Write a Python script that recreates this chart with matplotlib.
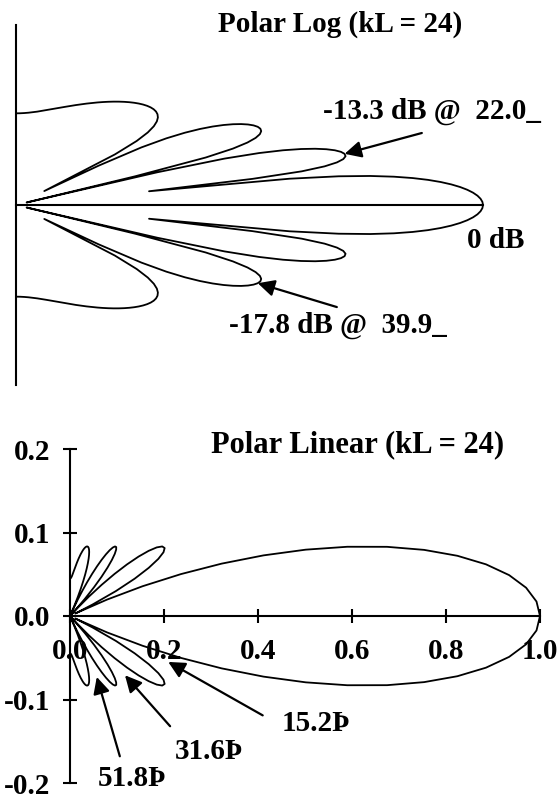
import numpy as np
import matplotlib
matplotlib.use('Agg')
import matplotlib.pyplot as plt

# line source pattern, kL = 24, sampled every degree (0..90, symmetric),
# plus the 31.5 deg sample that dips into the second null
angle_deg = list(range(0, 32)) + [31.5] + list(range(32, 91))
amplitude = [1.0, 0.9927, 0.9710, 0.9356, 0.8872, 0.8274, 0.7576, 0.6798, 0.5958, 0.5079,
             0.4181, 0.3287, 0.2415, 0.1585, 0.08139, 0.01151, 0.04997, 0.1022, 0.1448, 0.1773,
             0.2000, 0.2131, 0.2172, 0.2132, 0.2020, 0.1846, 0.1623, 0.1361, 0.1074, 0.07715,
             0.04657, 0.01659, 0.002105,
             0.01192, 0.03822, 0.06174, 0.08200, 0.09872, 0.1117, 0.1209, 0.1264,
             0.1284, 0.1270, 0.1226, 0.1156, 0.1063, 0.09514, 0.08251, 0.06882, 0.05445, 0.03975,
             0.02504, 0.01060, 0.003315, 0.01651, 0.02881, 0.04009, 0.05027, 0.05928, 0.06711, 0.07375,
             0.07924, 0.08361, 0.08692, 0.08925, 0.09068, 0.09129, 0.09117, 0.09042, 0.08911, 0.08735,
             0.08521, 0.08277, 0.08011, 0.07729, 0.07438, 0.07142, 0.06848, 0.06559, 0.06279, 0.06012,
             0.05760, 0.05526, 0.05312, 0.05120, 0.04951, 0.04806, 0.04687, 0.04593, 0.04526, 0.04485,
             0.04471]

db_floor = -55.0
lin_xticks = [0.0, 0.2, 0.4, 0.6, 0.8, 1.0]
lin_yticks = [-0.2, -0.1, 0.0, 0.1, 0.2]

# labels for the two plots
log_title = 'Polar Log (kL = 24)'
lin_title = 'Polar Linear (kL = 24)'
sidelobe1 = '-13.3 dB @  22.0_'
sidelobe2 = '-17.8 dB @  39.9_'
null_labels = ['15.2Þ', '31.6Þ', '51.8Þ']

plt.rcParams['font.family'] = ['Liberation Serif', 'DejaVu Serif']
plt.rcParams['font.weight'] = 'bold'
plt.rcParams['axes.unicode_minus'] = False
FS = 21

# mirror to -90..90
ang = np.array(angle_deg, dtype=float)
amp = np.array(amplitude)
theta = np.deg2rad(np.concatenate([-ang[::-1], ang[1:]]))
mag = np.concatenate([amp[::-1], amp[1:]])

db = 20 * np.log10(mag)
r_log = np.clip((db - db_floor) / (-db_floor), 0, None)

fig = plt.figure(figsize=(5.59, 7.96), dpi=100)
W, H = 559.0, 796.0

def rect(x0, y0, x1, y1):
    return [x0 / W, 1 - y1 / H, (x1 - x0) / W, (y1 - y0) / H]

# ---- top: polar log ----
ax1 = fig.add_axes(rect(16, 25, 530, 385))
ax1.plot(r_log * np.cos(theta), r_log * np.sin(theta), color='black', lw=1.3)
ax1.set_xlim(0, 514 / 467)
ax1.set_ylim(-1, 1)
for s in ['top', 'right']:
    ax1.spines[s].set_visible(False)
ax1.spines['bottom'].set_position(('data', 0))
ax1.spines['bottom'].set_bounds(0, 1)
ax1.spines['left'].set_bounds(-1, 1)
for s in ['bottom', 'left']:
    ax1.spines[s].set_linewidth(1.5)
ax1.set_xticks([])
ax1.set_yticks([])
ax1.patch.set_visible(False)

deg_full = np.rad2deg(theta)
i1 = int(np.argmin(abs(deg_full - 22.0)))
i2 = int(np.argmin(abs(deg_full + 40.0)))
tip1 = (r_log[i1] * np.cos(theta[i1]), r_log[i1] * np.sin(theta[i1]))
tip2 = (r_log[i2] * np.cos(theta[i2]), r_log[i2] * np.sin(theta[i2]))
arrow = dict(arrowstyle='-|>', color='black', lw=1.6, mutation_scale=25,
             shrinkA=0, shrinkB=0)
ax1.annotate('', xy=tip1, xytext=(0.869, 0.40), arrowprops=arrow)
ax1.annotate('', xy=tip2, xytext=(0.687, -0.567), arrowprops=arrow)
ax1.text(0.657, 0.478, sidelobe1, fontsize=FS, fontweight='bold', ha='left', va='baseline')
ax1.text(0.966, -0.239, '0 dB', fontsize=FS, fontweight='bold', ha='left', va='baseline')
ax1.text(0.456, -0.711, sidelobe2, fontsize=FS, fontweight='bold', ha='left', va='baseline')

fig.text(340 / W, 1 - 32 / H, log_title, fontsize=FS, fontweight='bold',
         ha='center', va='baseline')

# ---- bottom: polar linear ----
ax2 = fig.add_axes(rect(70, 449, 550, 783))
ax2.plot(mag * np.cos(theta), mag * np.sin(theta), color='black', lw=1.3)
ax2.set_xlim(0, 480 / 470)
ax2.set_ylim(-0.2, 0.2)
for s in ['top', 'right']:
    ax2.spines[s].set_visible(False)
ax2.spines['bottom'].set_position(('data', 0))
ax2.spines['bottom'].set_bounds(0, 1)
ax2.spines['left'].set_bounds(-0.2, 0.2)
for s in ['bottom', 'left']:
    ax2.spines[s].set_linewidth(1.5)
ax2.set_xticks(lin_xticks)
ax2.set_xticklabels([f'{v:.1f}' for v in lin_xticks])
ax2.set_yticks(lin_yticks)
ax2.set_yticklabels([f'{v:.1f}' for v in lin_yticks])
ax2.tick_params(axis='both', direction='inout', length=10, width=1.5, labelsize=FS)
ax2.tick_params(axis='x', pad=10.5)
ax2.tick_params(axis='y', pad=9.4)
for lab in ax2.get_xticklabels() + ax2.get_yticklabels():
    lab.set_fontweight('bold')
ax2.patch.set_visible(False)

null_tips = [(0.209, -0.055), (0.117, -0.071), (0.057, -0.073)]
null_tails = [(0.41, -0.119), (0.213, -0.132), (0.106, -0.168)]
null_text = [(0.451, -0.138), (0.223, -0.171), (0.06, -0.2036)]
for lab, tip, tail, pos in zip(null_labels, null_tips, null_tails, null_text):
    ax2.annotate('', xy=tip, xytext=tail, arrowprops=arrow)
    ax2.text(pos[0], pos[1], lab, fontsize=FS, fontweight='bold', ha='left', va='baseline')

fig.text(358 / W, 1 - 452 / H, lin_title, fontsize=22, fontweight='bold',
         ha='center', va='baseline')

fig.savefig('out.png', dpi=100)
